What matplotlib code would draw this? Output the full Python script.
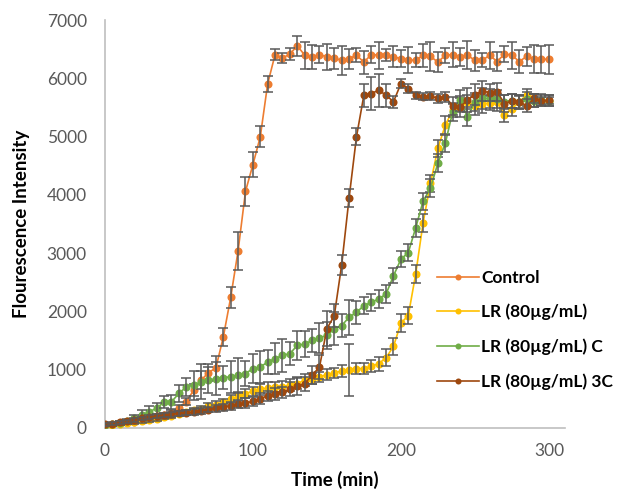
import matplotlib.pyplot as plt

# time points (min)
time_min = list(range(0, 305, 5))

control = [50, 60, 75, 95, 110, 130, 150, 175, 220, 260,
           336, 449, 650, 820, 950, 1030, 1560, 2240, 3040, 4060,
           4520, 5000, 5910, 6410, 6350, 6420, 6560, 6400, 6370, 6410,
           6370, 6350, 6310, 6340, 6400, 6280, 6410, 6400, 6400, 6370,
           6340, 6320, 6310, 6400, 6380, 6280, 6400, 6410, 6370, 6400,
           6310, 6310, 6400, 6290, 6420, 6400, 6290, 6380, 6340, 6330,
           6330]
control_err = [20, 20, 25, 25, 30, 30, 30, 35, 40, 40,
               50, 60, 100, 150, 150, 200, 150, 180, 330, 250,
               210, 180, 140, 100, 80, 100, 170, 230, 200, 150,
               220, 180, 250, 170, 120, 200, 150, 230, 100, 180,
               150, 220, 120, 200, 250, 170, 130, 220, 150, 240,
               180, 120, 230, 170, 140, 230, 200, 160, 240, 230,
               250]

lr80 = [50, 55, 70, 85, 100, 120, 140, 160, 185, 210,
        240, 270, 300, 330, 370, 400, 440, 490, 540, 590,
        630, 660, 690, 705, 710, 735, 762, 819, 848, 876,
        915, 944, 978, 990, 1019, 1019, 1058, 1104, 1206, 1400,
        1800, 1929, 2641, 3522, 4200, 4800, 5200, 5450, 5550, 5600,
        5530, 5560, 5580, 5590, 5380, 5480, 5600, 5720, 5620, 5620,
        5620]
lr80_err = [20, 20, 25, 25, 30, 30, 30, 35, 35, 40,
            40, 45, 50, 50, 55, 60, 60, 70, 70, 80,
            80, 90, 90, 90, 100, 100, 100, 100, 100, 90,
            90, 90, 100, 450, 100, 90, 100, 120, 150, 140,
            150, 150, 150, 150, 150, 150, 150, 120, 120, 120,
            150, 150, 120, 150, 120, 130, 120, 100, 110, 100,
            100]

lr80_c = [50, 65, 85, 120, 170, 222, 279, 336, 449, 449,
          592, 705, 734, 791, 819, 848, 865, 876, 905, 933,
          1019, 1046, 1132, 1190, 1246, 1275, 1417, 1440, 1502, 1548,
          1588, 1702, 1758, 1900, 1985, 2100, 2156, 2214, 2300, 2612,
          2897, 3010, 3436, 3892, 4119, 4546, 4887, 5428, 5628, 5343,
          5599, 5656, 5656, 5650, 5600, 5620, 5600, 5650, 5620, 5630,
          5620]
lr80_c_err = [20, 25, 30, 40, 60, 80, 100, 100, 100, 120,
              150, 150, 250, 300, 220, 280, 200, 270, 300, 220,
              250, 280, 200, 260, 280, 200, 250, 220, 200, 260,
              230, 280, 200, 300, 200, 150, 150, 150, 150, 130,
              140, 150, 150, 150, 150, 150, 150, 150, 180, 160,
              150, 180, 160, 150, 120, 120, 120, 120, 110, 110,
              100]

lr80_3c = [60, 75, 95, 115, 140, 165, 190, 205, 220, 235,
           250, 262, 275, 295, 315, 335, 355, 380, 405, 430,
           455, 505, 550, 580, 610, 660, 717, 762, 905, 1046,
           1702, 1929, 2800, 3948, 5001, 5713, 5741, 5798, 5713, 5599,
           5912, 5826, 5713, 5684, 5702, 5656, 5684, 5531, 5514, 5628,
           5724, 5782, 5758, 5770, 5570, 5611, 5599, 5531, 5656, 5611,
           5628]
lr80_3c_err = [20, 20, 25, 25, 30, 30, 30, 35, 35, 40,
               40, 45, 50, 50, 50, 60, 60, 70, 70, 80,
               80, 90, 90, 100, 100, 120, 150, 120, 150, 200,
               300, 200, 170, 150, 150, 200, 280, 280, 200, 100,
               80, 80, 60, 60, 70, 70, 80, 150, 180, 200,
               180, 170, 150, 160, 150, 120, 100, 110, 80, 70,
               60]

series = [
    ('Control', control, control_err, '#ED7D31'),
    ('LR (80µg/mL)', lr80, lr80_err, '#FFC000'),
    ('LR (80µg/mL) C', lr80_c, lr80_c_err, '#70AD47'),
    ('LR (80µg/mL) 3C', lr80_3c, lr80_3c_err, '#9E480E'),
]

plt.rcParams['font.family'] = ['Lato', 'DejaVu Sans']

fig = plt.figure(figsize=(6.17, 4.93), dpi=100)
ax = fig.add_axes([0.170, 0.132, 0.746, 0.827])

for i, (name, vals, err, col) in enumerate(series):
    z = 2 + i
    ax.plot(time_min, vals, '-o', color=col, lw=1.2, markersize=5.8,
            markeredgewidth=0, label=name, zorder=z)
    ax.errorbar(time_min, vals, yerr=err, fmt='none', ecolor='#595959',
                elinewidth=1.1, capsize=3.5, capthick=1.1, zorder=z + 0.5)

ax.set_xlim(0, 311)
ax.set_ylim(0, 7000)
ax.set_xticks([0, 100, 200, 300])
ax.set_yticks(range(0, 7001, 1000))

for s in ['top', 'right']:
    ax.spines[s].set_visible(False)
for s in ['left', 'bottom']:
    ax.spines[s].set_color('#BFBFBF')
    ax.spines[s].set_linewidth(1.2)

ax.tick_params(axis='both', length=0, labelsize=12.5, colors='#595959')
ax.tick_params(axis='y', pad=13)
ax.tick_params(axis='x', pad=11)

ax.set_xlabel('Time (min)', fontsize=13.5, fontweight='bold')
ax.set_ylabel('Flourescence Intensity', fontsize=13.5, fontweight='bold')
ax.xaxis.set_label_coords(0.5, -0.105)
ax.yaxis.set_label_coords(-0.163, 0.5)

ax.legend(loc='upper left', bbox_to_anchor=(0.708, 0.453),
          bbox_transform=fig.transFigure, frameon=False,
          prop={'weight': 'bold', 'size': 12.5},
          handlelength=2.45, handletextpad=0.1, labelspacing=1.05,
          borderpad=0, borderaxespad=0, markerscale=0.75)

plt.savefig('out.png', dpi=100)
